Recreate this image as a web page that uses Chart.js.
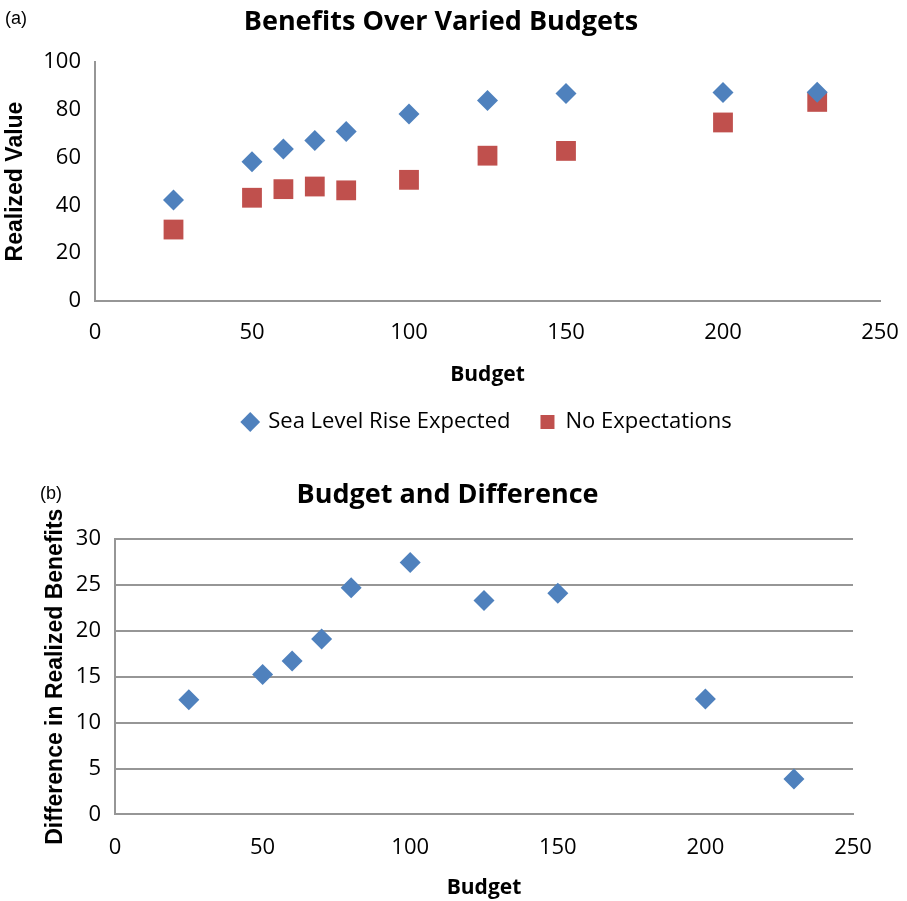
<!DOCTYPE html>
<html>
<head>
<meta charset="utf-8">
<script src="https://cdn.jsdelivr.net/npm/chart.js@4/dist/chart.umd.min.js"></script>
<style>
  body { margin: 0; background: #fff; }
  .panel { position: absolute; left: 0; width: 907px; }
  #topBox { top: 0; height: 455px; }
  #bottomBox { top: 455px; height: 446px; }
  .tag { position: absolute; font: 18px "Liberation Sans", Arial, sans-serif; color: #000; }
</style>
</head>
<body>
<div class="panel" id="topBox"><canvas id="benefitsChart"></canvas></div>
<div class="panel" id="bottomBox"><canvas id="differenceChart"></canvas></div>
<div class="tag" style="left:5px; top:8px;">(a)</div>
<div class="tag" style="left:40px; top:483px;">(b)</div>
<script>
// budgets tested and the realized value for each scenario
const budgets = [25, 50, 60, 70, 80, 100, 125, 150, 200, 230];
const seaLevelExpected = [42.3, 58.3, 63.6, 67.2, 70.9, 78.2, 83.9, 86.8, 87.2, 87.3];
const noExpectations = [29.9, 43.2, 46.8, 47.9, 46.3, 50.7, 60.8, 62.8, 74.7, 83.3];
const difference = [12.5, 15.25, 16.7, 19.1, 24.7, 27.45, 23.3, 24.1, 12.56, 3.85];

const budgetTicks = [0, 50, 100, 150, 200, 250];
const valueTicks = [0, 20, 40, 60, 80, 100];
const diffTicks = [0, 5, 10, 15, 20, 25, 30];

const BLUE = '#4f81bd';
const RED = '#c0504d';
const AXIS = '#969696';
const tickFont = { family: 'Open Sans', size: 22 };
const titleFont = { family: 'Open Sans', size: 27, weight: 'bold' };
const axisTitleFont = { family: 'Open Sans', size: 21, weight: 'bold' };
const yTitleFont = { family: 'Liberation Sans', size: 23, weight: 'bold' };

Chart.defaults.color = '#000';
Chart.defaults.animation = false;

const pts = (ys) => budgets.map((b, i) => ({ x: b, y: ys[i] }));
const useTicks = (list) => (s) => { s.ticks = list.map(v => ({ value: v })); };
// keep the plot edges fixed, labels may hang over
const noSidePad = (s) => { s.paddingLeft = 0; s.paddingRight = 0; };

new Chart(document.getElementById('benefitsChart'), {
  type: 'scatter',
  data: {
    datasets: [{
      label: 'Sea Level Rise Expected',
      data: pts(seaLevelExpected),
      pointStyle: 'rectRot',
      pointRadius: 10.5,
      backgroundColor: BLUE,
      borderColor: BLUE,
      borderWidth: 0
    }, {
      label: 'No Expectations',
      data: pts(noExpectations),
      pointStyle: 'rect',
      pointRadius: 14,
      backgroundColor: RED,
      borderColor: RED,
      borderWidth: 0
    }]
  },
  options: {
    responsive: true,
    maintainAspectRatio: false,
    layout: { padding: { left: 2, right: 27, top: 0, bottom: 12 } },
    plugins: {
      title: { display: true, text: 'Benefits Over Varied Budgets', font: titleFont, padding: { top: 6, bottom: 23.6 } },
      legend: {
        position: 'bottom',
        fullSize: false,
        labels: { usePointStyle: true, boxHeight: 14, boxWidth: 14, font: tickFont, padding: 30 }
      },
      tooltip: { enabled: false }
    },
    scales: {
      x: {
        type: 'linear', min: 0, max: 250,
        afterBuildTicks: useTicks(budgetTicks),
        afterFit: noSidePad,
        ticks: { font: tickFont, padding: 19 },
        grid: { display: false, drawTicks: false },
        border: { color: AXIS, width: 2 },
        title: { display: true, text: 'Budget', font: axisTitleFont, padding: { top: -3, bottom: -6.6 } }
      },
      y: {
        min: 0, max: 100,
        afterBuildTicks: useTicks(valueTicks),
        afterFit: (s) => { s.width = 93; },
        ticks: { font: tickFont, padding: 14 },
        grid: { display: false, drawTicks: false },
        border: { color: AXIS, width: 2 },
        title: { display: true, text: 'Realized Value', font: yTitleFont, padding: 0 }
      }
    }
  }
});

new Chart(document.getElementById('differenceChart'), {
  type: 'scatter',
  data: {
    datasets: [{
      label: 'Difference',
      data: pts(difference),
      pointStyle: 'rectRot',
      pointRadius: 10.5,
      backgroundColor: BLUE,
      borderColor: BLUE,
      borderWidth: 0
    }]
  },
  options: {
    responsive: true,
    maintainAspectRatio: false,
    layout: { padding: { left: 42, right: 54, top: 0, bottom: 0 } },
    plugins: {
      title: { display: true, text: 'Budget and Difference', font: titleFont, padding: { top: 23.8, bottom: 27.8 } },
      legend: { display: false },
      tooltip: { enabled: false }
    },
    scales: {
      x: {
        type: 'linear', min: 0, max: 250,
        afterBuildTicks: useTicks(budgetTicks),
        afterFit: noSidePad,
        ticks: { font: tickFont, padding: 20 },
        grid: { display: false, drawTicks: false },
        border: { color: AXIS, width: 2 },
        title: { display: true, text: 'Budget', font: axisTitleFont, padding: { top: -5, bottom: 0 } }
      },
      y: {
        min: 0, max: 30,
        afterBuildTicks: useTicks(diffTicks),
        afterFit: (s) => { s.width = 73; },
        ticks: { font: tickFont, padding: 14 },
        grid: { color: AXIS, lineWidth: 2, drawTicks: false },
        border: { color: AXIS, width: 2 },
        title: { display: true, text: 'Difference in Realized Benefits', font: yTitleFont, padding: 0 }
      }
    }
  }
});
</script>
</body>
</html>
